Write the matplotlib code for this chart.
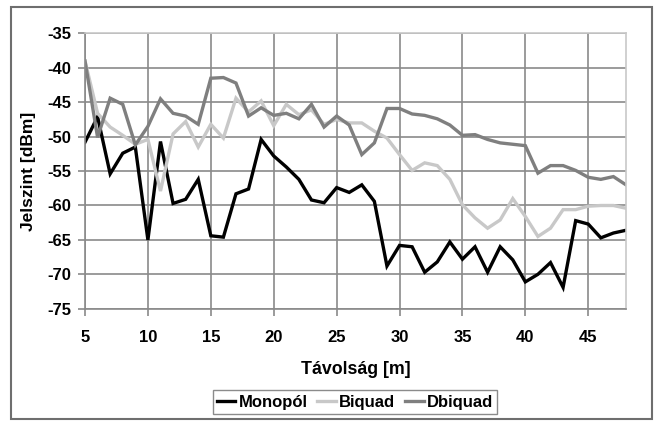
import matplotlib
matplotlib.use("Agg")
import matplotlib.pyplot as plt
from matplotlib.patches import Rectangle

plt.rcParams['font.family'] = ['Liberation Sans', 'DejaVu Sans']
plt.rcParams['font.weight'] = 'bold'
plt.rcParams['axes.unicode_minus'] = False

distance = list(range(5, 49))

monopol = [-50.8, -47.1, -55.4, -52.4, -51.5, -65.0, -50.7, -59.7, -59.1, -56.2,
           -64.4, -64.6, -58.3, -57.6, -50.4, -52.8, -54.4, -56.2, -59.2, -59.6,
           -57.4, -58.1, -57.0, -59.4, -68.8, -65.8, -66.0, -69.7, -68.2, -65.3,
           -67.8, -66.0, -69.7, -66.0, -67.9, -71.1, -70.0, -68.3, -71.9, -62.2,
           -62.7, -64.7, -64.0, -63.6]

biquad = [-39.0, -46.6, -48.6, -49.8, -51.1, -50.4, -57.9, -49.6, -47.8, -51.5,
          -48.2, -50.2, -44.4, -46.4, -44.8, -48.4, -45.3, -46.8, -46.1, -48.2,
          -47.5, -48.0, -48.0, -49.2, -50.2, -52.6, -54.9, -53.8, -54.2, -56.2,
          -59.9, -61.8, -63.3, -62.1, -59.0, -61.6, -64.5, -63.3, -60.6, -60.6,
          -60.1, -60.0, -60.0, -60.4]

dbiquad = [-39.0, -50.1, -44.4, -45.3, -51.2, -48.5, -44.5, -46.6, -47.0, -48.2,
           -41.5, -41.4, -42.2, -47.0, -45.8, -46.9, -46.6, -47.4, -45.3, -48.6,
           -47.0, -48.3, -52.6, -50.9, -45.9, -45.9, -46.7, -46.9, -47.4, -48.3,
           -49.8, -49.7, -50.4, -50.9, -51.1, -51.3, -55.3, -54.2, -54.2, -54.9,
           -55.9, -56.2, -55.8, -57.0]

series_names = ['Monopól', 'Biquad', 'Dbiquad']
series_colors = ['#000000', '#c8c8c8', '#7f7f7f']

x_ticks = [5, 10, 15, 20, 25, 30, 35, 40, 45]
y_ticks = [-75, -70, -65, -60, -55, -50, -45, -40, -35]

W, H = 656, 421
fig = plt.figure(figsize=(W / 100, H / 100), dpi=100)

# outer chart frame
fig.patches.append(Rectangle((11 / W, 2 / H), 641 / W, 412.5 / H, transform=fig.transFigure,
                             fill=False, edgecolor='#6e6e6e', linewidth=1.5))

left, right, top, bottom = 85, 626, 33.5, 308.7
ax = fig.add_axes([left / W, 1 - bottom / H, (right - left) / W, (bottom - top) / H])

for vals, name, col in zip([monopol, biquad, dbiquad], series_names, series_colors):
    ax.plot(distance, vals, color=col, linewidth=2.4, label=name, solid_joinstyle='miter')

ax.set_xlim(5, 48)
ax.set_ylim(-75, -35)
ax.set_xticks(x_ticks)
ax.set_yticks(y_ticks)
ax.grid(True, color='#8a8a8a', linewidth=1.2)
ax.set_axisbelow(True)
for side in ['top', 'right']:
    ax.spines[side].set_color('#c8c8c8')
    ax.spines[side].set_linewidth(1.2)
for side in ['left', 'bottom']:
    ax.spines[side].set_color('#8a8a8a')
    ax.spines[side].set_linewidth(1.2)
ax.tick_params(axis='both', labelsize=12, labelcolor='#000000', color='#8a8a8a',
               length=5, width=1.2, direction='out')
ax.tick_params(axis='y', pad=5)
ax.tick_params(axis='x', pad=10)
for lbl in ax.get_xticklabels() + ax.get_yticklabels():
    lbl.set_fontweight('bold')

ax.set_xlabel('Távolság [m]', fontsize=12.8, fontweight='bold', labelpad=12)
ax.set_ylabel('Jelszint [dBm]', fontsize=12.5, fontweight='bold', labelpad=8)

leg = fig.legend(loc='center', bbox_to_anchor=(355 / W, 1 - 402 / H), ncol=3,
                 frameon=True, fancybox=False, handlelength=1.1,
                 handletextpad=0.2, columnspacing=0.6, borderpad=0.25,
                 prop={'weight': 'bold', 'size': 12})
leg.get_frame().set_edgecolor('#6e6e6e')
leg.get_frame().set_linewidth(1.0)

fig.savefig('out.png', dpi=100)
